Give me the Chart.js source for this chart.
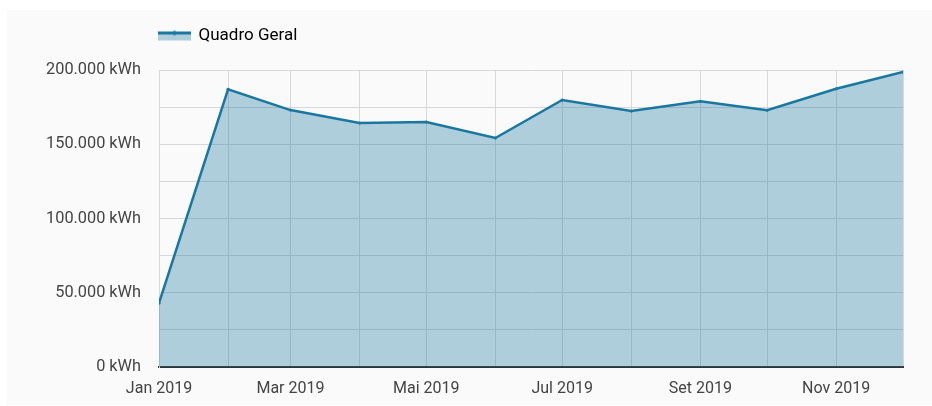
<!DOCTYPE html>
<html>
<head>
<meta charset="utf-8">
<script src="https://cdn.jsdelivr.net/npm/chart.js@4/dist/chart.umd.min.js"></script>
<style>
  html, body { margin: 0; padding: 0; background: #fff; }
  #wrap { position: relative; width: 932px; height: 406px; }
  #panel { position: absolute; left: 7px; top: 10px; width: 925px; height: 395px; background: #fafafa; }
  #graph { position: absolute; left: 0; top: 0; }
</style>
</head>
<body>
<div id="wrap">
  <div id="panel"></div>
  <canvas id="graph" width="932" height="406"></canvas>
</div>
<script>
// Monthly data
const months = ['2019-01', '2019-02', '2019-03', '2019-04', '2019-05', '2019-06',
  '2019-07', '2019-08', '2019-09', '2019-10', '2019-11', '2019-12'];
const consumption = [43000, 187000, 173000, 164300, 165000, 154200,
  179800, 172400, 178900, 172900, 187400, 198700];
const seriesName = 'Quadro Geral';
const xTickLabels = ['Jan 2019', '', 'Mar 2019', '', 'Mai 2019', '', 'Jul 2019', '',
  'Set 2019', '', 'Nov 2019', ''];
const yMin = 0;
const yMax = 200000;
const yStep = 25000;
const yLabelEvery = 50000;

const lineColor = '#1a78a0';
const fillColor = 'rgba(26,120,160,0.34)';
const gridColor = '#d8d8d8';
const textColor = '#444';

// day offset from the first month, so the x axis is spaced like a time axis
function dayOffset(m) {
  const p = m.split('-');
  const d0 = Date.UTC(2019, 0, 1);
  return (Date.UTC(+p[0], +p[1] - 1, 1) - d0) / 86400000;
}
const xs = months.map(dayOffset);
const points = consumption.map((v, i) => ({ x: xs[i], y: v }));

function fmtKwh(v) {
  return String(v).replace(/\B(?=(\d{3})+(?!\d))/g, '.') + ' kWh';
}

// legend icon: line with a dot on top of a filled band
function legendIcon() {
  const c = document.createElement('canvas');
  c.width = 33; c.height = 18;
  const g = c.getContext('2d');
  g.fillStyle = fillColor;
  g.fillRect(0, 6, 33, 8);
  g.fillStyle = lineColor;
  g.fillRect(0, 5, 33, 3);
  g.beginPath();
  g.arc(16.5, 6.5, 2.2, 0, Math.PI * 2);
  g.fill();
  return c;
}
const icon = legendIcon();

// move the legend over the plot and keep the plot top where it belongs
const legendPlace = {
  id: 'legendPlace',
  afterInit(chart) {
    const lg = chart.legend;
    if (lg && !lg._patched) {
      const fit = lg.fit;
      lg.fit = function () { fit.call(this); this.height = 60; };
      lg._patched = true;
    }
  },
  afterLayout(chart) {
    chart.legend.left = chart.chartArea.left - 17;
  }
};

Chart.defaults.font.family = 'Roboto, "Liberation Sans", Arial, sans-serif';
Chart.defaults.font.size = 16;
Chart.defaults.color = textColor;

new Chart(document.getElementById('graph'), {
  type: 'line',
  data: {
    datasets: [{
      label: seriesName,
      data: points,
      borderColor: lineColor,
      backgroundColor: fillColor,
      borderWidth: 2.5,
      fill: 'origin',
      tension: 0,
      pointRadius: 1.5,
      pointBackgroundColor: lineColor,
      pointBorderWidth: 0
    }]
  },
  plugins: [legendPlace],
  options: {
    responsive: false,
    animation: false,
    layout: { padding: { left: 9, right: 29, top: 10, bottom: 9 } },
    plugins: {
      tooltip: { enabled: false },
      legend: {
        display: true,
        position: 'top',
        align: 'start',
        labels: {
          usePointStyle: true,
          pointStyleWidth: 31,
          boxHeight: 17,
          padding: 17,
          font: { size: 17 },
          color: '#333',
          generateLabels: (chart) => [{
            text: seriesName,
            pointStyle: icon,
            fillStyle: fillColor,
            strokeStyle: lineColor,
            lineWidth: 0,
            datasetIndex: 0
          }]
        }
      }
    },
    scales: {
      x: {
        type: 'linear',
        min: xs[0],
        max: xs[xs.length - 1],
        afterBuildTicks: (s) => { s.ticks = xs.map(v => ({ value: v })); },
        afterFit: (s) => { s.height = 30; },
        grid: { color: gridColor, drawTicks: false },
        border: { color: '#333', width: 2 },
        ticks: {
          autoSkip: false,
          maxRotation: 0,
          padding: 12,
          color: textColor,
          callback: (v, i) => xTickLabels[i]
        }
      },
      y: {
        min: yMin,
        max: yMax,
        afterFit: (s) => { s.width = 150; },
        grid: { color: gridColor, drawTicks: false },
        border: { color: gridColor },
        ticks: {
          stepSize: yStep,
          padding: 18,
          color: textColor,
          font: { size: 16.3 },
          callback: (v) => (v % yLabelEvery === 0 ? fmtKwh(v) : '')
        }
      }
    }
  }
});
</script>
</body>
</html>
